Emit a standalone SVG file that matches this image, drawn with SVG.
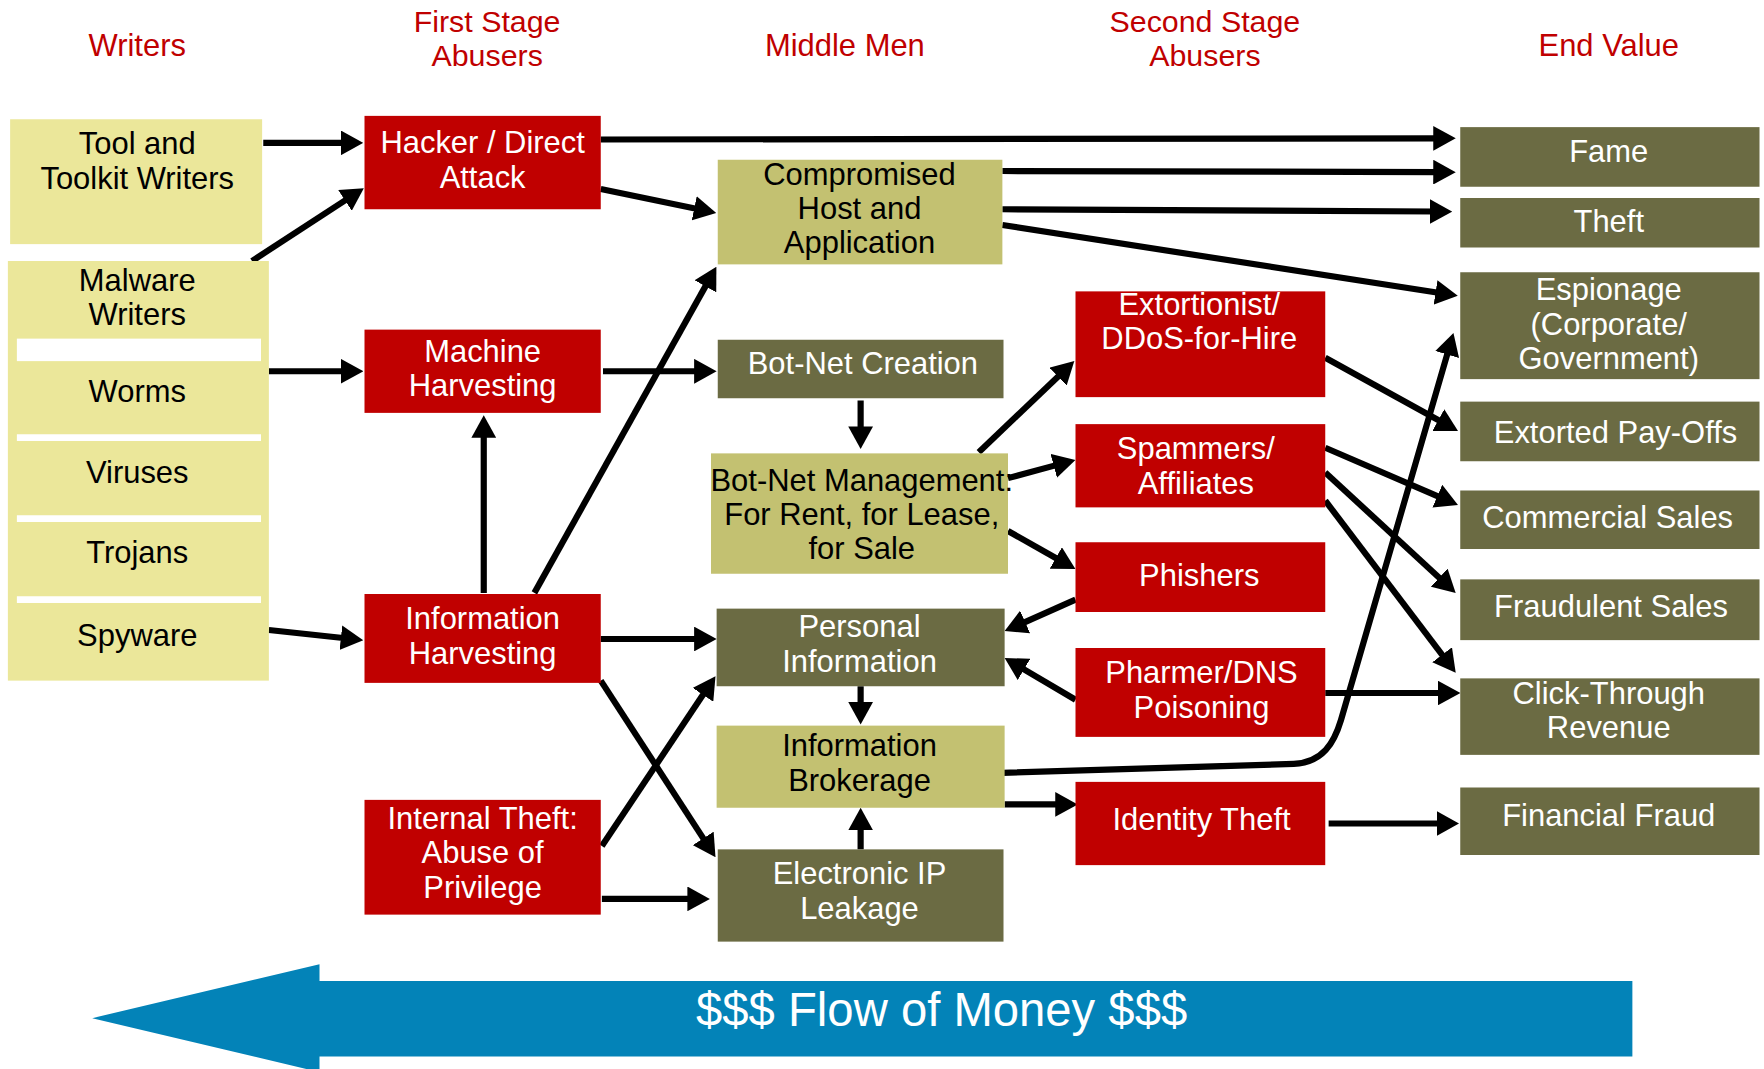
<svg xmlns="http://www.w3.org/2000/svg" width="1764" height="1069" viewBox="0 0 1764 1069">
<style>
text{font-family:"Liberation Sans",Arial,sans-serif;font-size:27.5px;text-anchor:middle}
.hd{fill:#C00000}
.h2{fill:#C00000;font-size:27px}
.dk{fill:#000}
.wt{fill:#fff}
.red{fill:#C00000}
.lt{fill:#EBE79A}
.oy{fill:#C3C171}
.ol{fill:#6B6B43}
.c{stroke:#000;stroke-width:5.5;fill:none;marker-end:url(#ah)}
</style>
<defs>
<marker id="ah" viewBox="0 0 20 22" refX="4" refY="11" markerWidth="20" markerHeight="22" markerUnits="userSpaceOnUse" orient="auto">
<path d="M0,0 L20,11 L0,22 z" fill="#000"/>
</marker>
</defs>
<rect width="1764" height="1069" fill="#fff"/>
<g transform="scale(1.125)">
<g id="headers">
<text class="hd" x="122" y="50">Writers</text>
<text class="h2" x="433" y="28">First Stage</text>
<text class="h2" x="433" y="59">Abusers</text>
<text class="hd" x="751" y="50">Middle Men</text>
<text class="h2" x="1071" y="28">Second Stage</text>
<text class="h2" x="1071" y="59">Abusers</text>
<text class="hd" x="1430" y="50">End Value</text>
</g>
<g id="connectors">
<line class="c" x1="234" y1="127" x2="307" y2="127"/>
<line class="c" x1="224" y1="232" x2="310" y2="176"/>
<line class="c" x1="534" y1="124" x2="1278" y2="123"/>
<line class="c" x1="534" y1="168" x2="621" y2="186"/>
<line class="c" x1="891" y1="152" x2="1278" y2="153"/>
<line class="c" x1="891" y1="186" x2="1275" y2="188"/>
<line class="c" x1="891" y1="200" x2="1280" y2="260.5"/>
<line class="c" x1="239" y1="330" x2="307" y2="330"/>
<line class="c" x1="536" y1="330" x2="621" y2="330"/>
<line class="c" x1="430" y1="527" x2="430" y2="385"/>
<line class="c" x1="475" y1="527" x2="629" y2="251"/>
<line class="c" x1="239" y1="560" x2="307" y2="567.3"/>
<line class="c" x1="534" y1="568" x2="621" y2="568"/>
<line class="c" x1="534" y1="605" x2="627.3" y2="748.6"/>
<line class="c" x1="535" y1="752" x2="627.1" y2="614.3"/>
<line class="c" x1="535" y1="799" x2="615" y2="799"/>
<line class="c" x1="765" y1="356" x2="765" y2="383"/>
<line class="c" x1="870" y1="402" x2="943.4" y2="332"/>
<line class="c" x1="896" y1="425" x2="940.5" y2="413"/>
<line class="c" x1="896" y1="472" x2="942" y2="498"/>
<line class="c" x1="956" y1="533" x2="907.6" y2="554.5"/>
<line class="c" x1="956" y1="622" x2="906.8" y2="593"/>
<line class="c" x1="765" y1="610" x2="765" y2="628"/>
<line class="c" x1="765" y1="755" x2="765" y2="734"/>
<line class="c" x1="893" y1="715" x2="942" y2="715"/>
<path class="c" d="M891,687 L1150,679 C1176,678 1186,660 1192,640 L1287.5,311.3"/>
<line class="c" x1="1178" y1="318" x2="1282" y2="375.3"/>
<line class="c" x1="1178" y1="398" x2="1281.3" y2="442.6"/>
<line class="c" x1="1178" y1="420" x2="1282.2" y2="516.2"/>
<line class="c" x1="1178" y1="445" x2="1284.3" y2="585.2"/>
<line class="c" x1="1178" y1="616" x2="1282" y2="616"/>
<line class="c" x1="1181" y1="732" x2="1281" y2="732"/>
</g>
<g id="tool-writers">
<rect class="lt" x="9" y="106" width="224" height="111"/>
<text class="dk" x="122" y="137">Tool and</text>
<text class="dk" x="122" y="168">Toolkit Writers</text>
</g>
<g id="malware-writers">
<rect class="lt" x="7" y="232" width="232" height="373"/>
<rect fill="#fff" x="15" y="301" width="217" height="20"/>
<rect fill="#fff" x="15" y="386" width="217" height="6"/>
<rect fill="#fff" x="15" y="458" width="217" height="6"/>
<rect fill="#fff" x="15" y="530" width="217" height="6"/>
<text class="dk" x="122" y="259">Malware</text>
<text class="dk" x="122" y="289">Writers</text>
<text class="dk" x="122" y="357">Worms</text>
<text class="dk" x="122" y="429">Viruses</text>
<text class="dk" x="122" y="500">Trojans</text>
<text class="dk" x="122" y="574">Spyware</text>
</g>
<g id="hacker">
<rect class="red" x="324" y="103" width="210" height="83"/>
<text class="wt" x="429" y="136">Hacker / Direct</text>
<text class="wt" x="429" y="167">Attack</text>
</g>
<g id="machine-harvesting">
<rect class="red" x="324" y="293" width="210" height="74"/>
<text class="wt" x="429" y="322">Machine</text>
<text class="wt" x="429" y="352">Harvesting</text>
</g>
<g id="information-harvesting">
<rect class="red" x="324" y="528" width="210" height="79"/>
<text class="wt" x="429" y="559">Information</text>
<text class="wt" x="429" y="590">Harvesting</text>
</g>
<g id="internal-theft">
<rect class="red" x="324" y="711" width="210" height="102"/>
<text class="wt" x="429" y="737">Internal Theft:</text>
<text class="wt" x="429" y="767">Abuse of</text>
<text class="wt" x="429" y="798">Privilege</text>
</g>
<g id="compromised-host">
<rect class="oy" x="638" y="142" width="253" height="93"/>
<text class="dk" x="764" y="164">Compromised</text>
<text class="dk" x="764" y="195">Host and</text>
<text class="dk" x="764" y="225">Application</text>
</g>
<g id="botnet-creation">
<rect class="ol" x="638" y="302" width="254" height="52"/>
<text class="wt" x="767" y="332">Bot-Net Creation</text>
</g>
<g id="botnet-management">
<rect class="oy" x="632" y="403" width="264" height="107"/>
<text class="dk" x="766" y="436">Bot-Net Management:</text>
<text class="dk" x="766" y="467">For Rent, for Lease,</text>
<text class="dk" x="766" y="497">for Sale</text>
</g>
<g id="personal-information">
<rect class="ol" x="637" y="541" width="256" height="69"/>
<text class="wt" x="764" y="566">Personal</text>
<text class="wt" x="764" y="597">Information</text>
</g>
<g id="information-brokerage">
<rect class="oy" x="637" y="645" width="256" height="73"/>
<text class="dk" x="764" y="672">Information</text>
<text class="dk" x="764" y="703">Brokerage</text>
</g>
<g id="electronic-ip-leakage">
<rect class="ol" x="638" y="755" width="254" height="82"/>
<text class="wt" x="764" y="786">Electronic IP</text>
<text class="wt" x="764" y="817">Leakage</text>
</g>
<g id="extortionist">
<rect class="red" x="956" y="259" width="222" height="94"/>
<text class="wt" x="1066" y="280">Extortionist/</text>
<text class="wt" x="1066" y="310">DDoS-for-Hire</text>
</g>
<g id="spammers">
<rect class="red" x="956" y="377" width="222" height="74"/>
<text class="wt" x="1063" y="408">Spammers/</text>
<text class="wt" x="1063" y="439">Affiliates</text>
</g>
<g id="phishers">
<rect class="red" x="956" y="482" width="222" height="62"/>
<text class="wt" x="1066" y="521">Phishers</text>
</g>
<g id="pharmer">
<rect class="red" x="956" y="576" width="222" height="79"/>
<text class="wt" x="1068" y="607">Pharmer/DNS</text>
<text class="wt" x="1068" y="638">Poisoning</text>
</g>
<g id="identity-theft">
<rect class="red" x="956" y="695" width="222" height="74"/>
<text class="wt" x="1068" y="738">Identity Theft</text>
</g>
<g id="fame">
<rect class="ol" x="1298" y="113" width="266" height="53"/>
<text class="wt" x="1430" y="144">Fame</text>
</g>
<g id="theft">
<rect class="ol" x="1298" y="176" width="266" height="44"/>
<text class="wt" x="1430" y="206">Theft</text>
</g>
<g id="espionage">
<rect class="ol" x="1298" y="242" width="266" height="95"/>
<text class="wt" x="1430" y="267">Espionage</text>
<text class="wt" x="1430" y="298">(Corporate/</text>
<text class="wt" x="1430" y="328">Government)</text>
</g>
<g id="extorted-payoffs">
<rect class="ol" x="1298" y="357" width="266" height="53"/>
<text class="wt" x="1436" y="394">Extorted Pay-Offs</text>
</g>
<g id="commercial-sales">
<rect class="ol" x="1298" y="436" width="266" height="52"/>
<text class="wt" x="1429" y="469">Commercial Sales</text>
</g>
<g id="fraudulent-sales">
<rect class="ol" x="1298" y="515" width="266" height="54"/>
<text class="wt" x="1432" y="548">Fraudulent Sales</text>
</g>
<g id="click-through">
<rect class="ol" x="1298" y="603" width="266" height="68"/>
<text class="wt" x="1430" y="626">Click-Through</text>
<text class="wt" x="1430" y="656">Revenue</text>
</g>
<g id="financial-fraud">
<rect class="ol" x="1298" y="700" width="266" height="60"/>
<text class="wt" x="1430" y="734">Financial Fraud</text>
</g>
<g id="money-flow">
<polygon fill="#0383B8" points="82,905 284,857 284,872 1451,872 1451,939 284,939 284,953"/>
<text class="wt" x="837" y="912" style="font-size:42px">$$$ Flow of Money $$$</text>
</g>
</g>
</svg>
